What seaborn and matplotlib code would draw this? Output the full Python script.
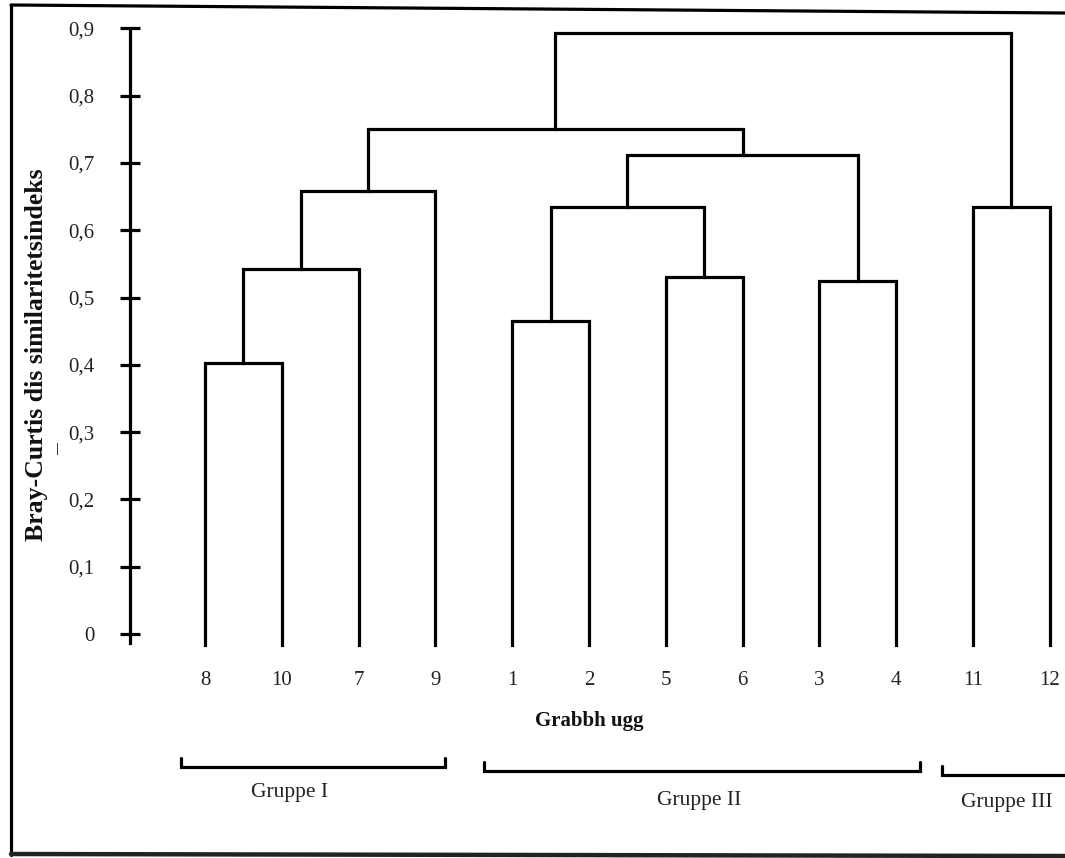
import numpy as np
import pandas as pd
import matplotlib
matplotlib.use("Agg")
import matplotlib.pyplot as plt
from matplotlib.lines import Line2D
import seaborn as sns

# ---- data -------------------------------------------------------------
leaf_labels = ["8", "10", "7", "9", "1", "2", "5", "6", "3", "4", "11", "12"]

# agglomeration steps: children (leaf label or "m<k>") and fusion level
merge_a = ["8", "m0", "m1", "1", "5", "m3", "3", "m5", "m2", "11", "m8"]
merge_b = ["10", "7", "9", "2", "6", "m4", "4", "m6", "m7", "12", "m9"]
merge_height = [0.403, 0.542, 0.658, 0.465, 0.531, 0.634, 0.525, 0.712, 0.750, 0.634, 0.893]

ytick_values = [0.0, 0.1, 0.2, 0.3, 0.4, 0.5, 0.6, 0.7, 0.8, 0.9]
ytick_labels = ["0", "0,1", "0,2", "0,3", "0,4", "0,5", "0,6", "0,7", "0,8", "0,9"]

group_names = ["Gruppe I", "Gruppe II", "Gruppe III"]
group_first = [0, 4, 10]
group_last = [3, 9, 11]

# ---- layout -----------------------------------------------------------
W, H = 1065, 858
LEAF0_PX, LEAF_STEP_PX = 205, 76.8      # leaf positions in pixels
ZERO_PX, UNIT_PX = 634, 673.0           # y=0 pixel row, pixels per unit
AX_L, AX_R, AX_T, AX_B = 100, 1065, 15, 650
LEAF_BASE = -0.016


def dx(px):
    return (px - LEAF0_PX) / LEAF_STEP_PX


def dy(py):
    return (ZERO_PX - py) / UNIT_PX


sns.set_theme(style="white")
plt.rcParams["font.family"] = ["Liberation Serif", "DejaVu Serif"]

fig = plt.figure(figsize=(W / 100, H / 100), dpi=100)
fig.patch.set_facecolor("white")
ax = fig.add_axes([AX_L / W, 1 - AX_B / H, (AX_R - AX_L) / W, (AX_B - AX_T) / H])
ax.set_facecolor("white")
ax.set_xlim(dx(AX_L), dx(AX_R))
ax.set_ylim(dy(AX_B), dy(AX_T))

# ---- dendrogram links -------------------------------------------------
pos = {lab: float(i) for i, lab in enumerate(leaf_labels)}
base = {lab: LEAF_BASE for lab in leaf_labels}
rows = []
for k, (a, b, h) in enumerate(zip(merge_a, merge_b, merge_height)):
    xa, xb = pos[a], pos[b]
    pts = [(xa, base[a]), (xa, h), (xb, h), (xb, base[b])]
    for j, (px_, py_) in enumerate(pts):
        rows.append({"x": px_, "y": py_, "link": k, "order": j})
    pos[f"m{k}"] = (xa + xb) / 2
    base[f"m{k}"] = h
links = pd.DataFrame(rows)

sns.lineplot(data=links, x="x", y="y", units="link", estimator=None,
             sort=False, color="black", linewidth=2.3, ax=ax, legend=False)
for ln in ax.lines:
    ln.set_solid_capstyle("projecting")
    ln.set_solid_joinstyle("miter")

# ---- axes styling -----------------------------------------------------
for side in ["top", "right", "bottom"]:
    ax.spines[side].set_visible(False)
ax.spines["left"].set_position(("data", dx(130)))
ax.spines["left"].set_bounds(-0.013, 0.9)
ax.spines["left"].set_linewidth(2.3)
ax.spines["left"].set_color("black")

ax.set_yticks(ytick_values, ytick_labels)
ax.tick_params(axis="y", direction="inout", length=15, width=2.3, color="black",
               pad=18, labelsize=15, labelcolor="#222222", left=True)

ax.set_xticks(range(len(leaf_labels)), leaf_labels)
ax.tick_params(axis="x", length=0, pad=15, labelsize=15, labelcolor="#222222")

ax.set_xlabel("Grabbh ugg", fontsize=15, fontweight="bold", color="#111111")
ax.xaxis.set_label_coords((589 - AX_L) / (AX_R - AX_L), -(711 - AX_B) / (AX_B - AX_T))
ax.set_ylabel("Bray-Curtis dis similaritetsindeks", fontsize=18.5,
              fontweight="bold", color="#111111")
ax.yaxis.set_label_coords((48 - AX_L) / (AX_R - AX_L), (AX_B - 355) / (AX_B - AX_T))

# small mark beside the axis title
ax.text(dx(57), dy(449), "|", fontsize=9, fontweight="bold",
        color="#222222", ha="center", va="center", clip_on=False)

# ---- group brackets ---------------------------------------------------
bracket_pad_l = [0.31, 0.37, 0.40]
bracket_pad_r = [0.13, 0.31, 0.40]
bracket_y = [767, 771, 775]
label_y = [793, 800, 802]
label_x = [290, 699, 1007]
for name, f, l, pl, pr, by, lx, ly in zip(group_names, group_first, group_last,
                                         bracket_pad_l, bracket_pad_r,
                                         bracket_y, label_x, label_y):
    x0, x1 = f - pl, l + pr
    yb, yt = dy(by), dy(by - 9)
    ax.plot([x0, x0, x1, x1], [yt, yb, yb, yt], color="black", lw=2.3,
            clip_on=False, solid_joinstyle="miter")
    ax.text(dx(lx), dy(ly), name, ha="center", va="center", fontsize=15.5,
            color="#222222", clip_on=False)

# ---- frame around the figure -----------------------------------------
fig.add_artist(Line2D([11 / W, 11 / W], [1 - 5 / H, 1 - 855 / H], color="black", lw=2.3))
fig.add_artist(Line2D([11 / W, 1.0], [1 - 5 / H, 1 - 13 / H], color="black", lw=2.3))
fig.add_artist(Line2D([11 / W, 1.0], [1 - 854 / H, 1 - 856 / H], color="#222222", lw=3.2))

fig.savefig("out.png", dpi=100, facecolor="white")
